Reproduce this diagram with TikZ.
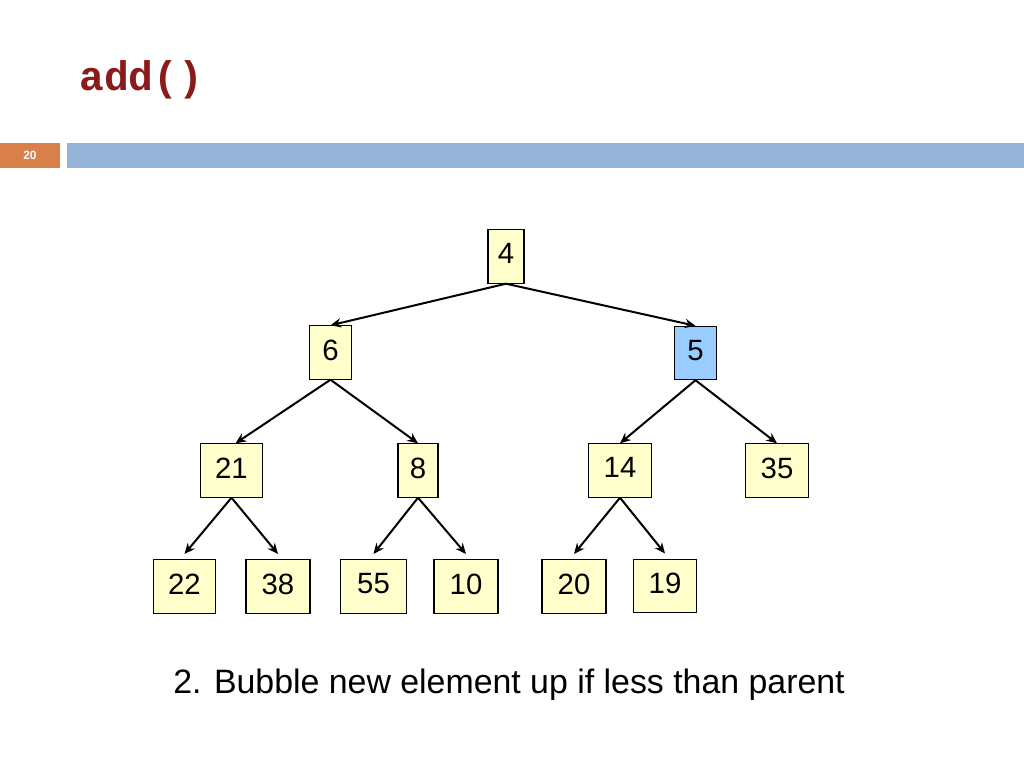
\documentclass[tikz,border=0pt]{standalone}
\usepackage{fontspec}
\setmainfont{Liberation Sans}
\newfontfamily\cour{Liberation Mono}
\usetikzlibrary{arrows.meta}
\definecolor{ny}{HTML}{FFFFCC}
\definecolor{nb}{HTML}{99CCFF}
\definecolor{bar}{HTML}{95B3D7}
\definecolor{org}{HTML}{D9804A}
\definecolor{ttl}{HTML}{8B1A1A}
\tikzset{
 hb/.style={draw=black,line width=0.8pt,fill=ny,minimum height=40pt,inner sep=0pt,
   font=\fontsize{22}{24}\selectfont, text depth=4pt},
 ed/.style={-{Stealth[length=8pt,width=7pt]},line width=1.5pt},
}
\begin{document}
\begin{tikzpicture}[x=0.75pt,y=-0.75pt]
\useasboundingbox[fill=white] (0,0) rectangle (1024,768);
\node[anchor=west,text=ttl,font=\cour\bfseries\fontsize{31}{34}\selectfont,inner sep=0pt] (title) at (79,80) {add()};
\fill[org] (0,143) rectangle (60,168);
\node[text=white,font=\bfseries\fontsize{9}{10}\selectfont] (pg) at (30,155) {20};
\fill[bar] (67,143) rectangle (1024,168);
\node[hb,minimum width=27pt] (n4) at (506,256.5) {4};
\node[hb,minimum width=31pt] (n6) at (330.5,352.5) {6};
\node[hb,minimum width=32pt,fill=nb] (n5) at (695.5,353) {5};
\node[hb,minimum width=47pt] (n21) at (231.5,470.5) {21};
\node[hb,minimum width=30pt] (n8) at (418,470.5) {8};
\node[hb,minimum width=47pt] (n14) at (620,470.5) {14};
\node[hb,minimum width=47pt] (n35) at (777,470.5) {35};
\node[hb,minimum width=47pt] (n22) at (184.5,586.5) {22};
\node[hb,minimum width=48pt] (n38) at (278,586.5) {38};
\node[hb,minimum width=49pt] (n55) at (373.5,586.5) {55};
\node[hb,minimum width=48pt] (n10) at (466,586.5) {10};
\node[hb,minimum width=48pt] (n20) at (574,586.5) {20};
\node[hb,minimum width=47pt] (n19) at (665,586) {19};
\draw[ed] (n4.south) -- (n6.north);
\draw[ed] (n4.south) -- (n5.north);
\draw[ed] (n6.south) -- ([xshift=3pt]n21.north);
\draw[ed] (n6.south) -- (n8.north);
\draw[ed] (n5.south) -- (n14.north);
\draw[ed] (n5.south) -- (n35.north);
\draw[ed] (n21.south) -- ([yshift=4pt]n22.north);
\draw[ed] (n21.south) -- ([yshift=4pt]n38.north);
\draw[ed] (n8.south) -- ([yshift=4pt]n55.north);
\draw[ed] (n8.south) -- ([yshift=4pt]n10.north);
\draw[ed] (n14.south) -- ([yshift=4pt]n20.north);
\draw[ed] (n14.south) -- ([yshift=4pt]n19.north);
\node[font=\fontsize{25.4}{28}\selectfont] (cap) at (509,685) {2. Bubble new element up if less than parent};
\end{tikzpicture}
\end{document}
